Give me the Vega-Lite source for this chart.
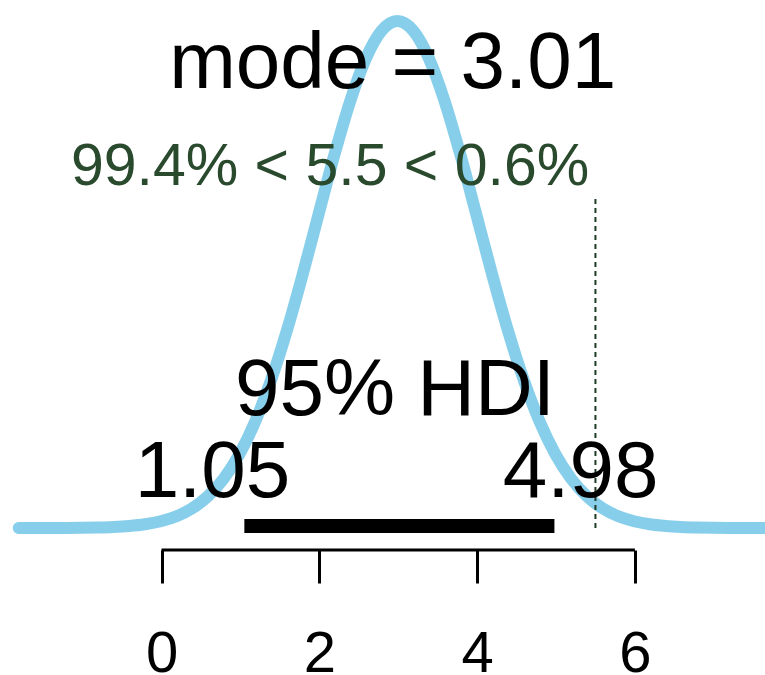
{
  "$schema": "https://vega.github.io/schema/vega-lite/v6.json",
  "width": 765,
  "height": 550,
  "autosize": {"type": "none"},
  "padding": {"top": 0, "left": 0, "right": 0, "bottom": 125},
  "background": "white",
  "config": {"view": {"stroke": null}, "font": "Liberation Sans"},
  "datasets": {
    "density": [
      {"x": -1.81, "d": 0.0}, {"x": -1.61, "d": 0.00002}, {"x": -1.41, "d": 0.00004}, {"x": -1.21, "d": 0.00008},
      {"x": -1.01, "d": 0.00018}, {"x": -0.81, "d": 0.00039}, {"x": -0.61, "d": 0.00079}, {"x": -0.41, "d": 0.00155},
      {"x": -0.21, "d": 0.00292}, {"x": -0.01, "d": 0.00529}, {"x": 0.19, "d": 0.00924}, {"x": 0.39, "d": 0.01553},
      {"x": 0.59, "d": 0.02511}, {"x": 0.79, "d": 0.03908}, {"x": 0.99, "d": 0.05851}, {"x": 1.19, "d": 0.0843},
      {"x": 1.39, "d": 0.11689}, {"x": 1.59, "d": 0.15595}, {"x": 1.79, "d": 0.20022}, {"x": 1.99, "d": 0.24736},
      {"x": 2.19, "d": 0.2941}, {"x": 2.39, "d": 0.33645}, {"x": 2.59, "d": 0.3704}, {"x": 2.79, "d": 0.39238},
      {"x": 2.99, "d": 0.4},
      {"x": 3.19, "d": 0.39238}, {"x": 3.39, "d": 0.3704}, {"x": 3.59, "d": 0.33645}, {"x": 3.79, "d": 0.2941},
      {"x": 3.99, "d": 0.24736}, {"x": 4.19, "d": 0.20022}, {"x": 4.39, "d": 0.15595}, {"x": 4.59, "d": 0.11689},
      {"x": 4.79, "d": 0.0843}, {"x": 4.99, "d": 0.05851}, {"x": 5.19, "d": 0.03908}, {"x": 5.39, "d": 0.02511},
      {"x": 5.59, "d": 0.01553}, {"x": 5.79, "d": 0.00924}, {"x": 5.99, "d": 0.00529}, {"x": 6.19, "d": 0.00292},
      {"x": 6.39, "d": 0.00155}, {"x": 6.59, "d": 0.00079}, {"x": 6.79, "d": 0.00039}, {"x": 6.99, "d": 0.00018},
      {"x": 7.19, "d": 0.00008}, {"x": 7.39, "d": 0.00004}, {"x": 7.59, "d": 0.00002}, {"x": 7.65, "d": 0.0}
    ],
    "hdi": [{"lo": 1.05, "hi": 4.98, "y": 0.0016}],
    "comp": [{"x": 5.5, "y0": 0.0, "y1": 0.2611}],
    "axisline": [{"from": 0, "to": 6, "y": -0.01736}],
    "bigText": [
      {"label": "mode = 3.01", "x": 2.93, "y": 0.3471},
      {"label": "95% HDI", "x": 2.96, "y": 0.0892},
      {"label": "1.05", "x": 0.646, "y": 0.0245},
      {"label": "4.98", "x": 5.311, "y": 0.0245}
    ],
    "compText": [{"label": "99.4% < 5.5 < 0.6%", "x": 2.136, "y": 0.2706}]
  },
  "layer": [
    {
      "data": {"name": "density"},
      "mark": {"type": "line", "color": "#87CEEB", "strokeWidth": 12, "strokeCap": "round", "strokeJoin": "round", "interpolate": "monotone"},
      "encoding": {
        "x": {
          "field": "x", "type": "quantitative",
          "scale": {"domain": [-2.047, 7.649], "nice": false, "zero": false},
          "axis": {
            "values": [0, 2, 4, 6], "format": "d", "domain": false, "grid": false, "title": null,
            "tickSize": 33, "tickWidth": 3, "tickColor": "black",
            "labelFontSize": 58, "labelFont": "Liberation Sans", "labelColor": "black",
            "labelBaseline": "alphabetic", "labelPadding": 88, "labelFlush": false, "labelOverlap": false
          }
        },
        "y": {
          "field": "d", "type": "quantitative",
          "scale": {"domain": [-0.01736, 0.41657], "nice": false, "zero": false},
          "axis": null
        }
      }
    },
    {
      "data": {"name": "axisline"},
      "mark": {"type": "rule", "color": "black", "strokeWidth": 3},
      "encoding": {
        "x": {"field": "from", "type": "quantitative"},
        "x2": {"field": "to"},
        "y": {"field": "y", "type": "quantitative"}
      }
    },
    {
      "data": {"name": "hdi"},
      "mark": {"type": "rule", "color": "black", "strokeWidth": 14, "strokeCap": "butt"},
      "encoding": {
        "x": {"field": "lo", "type": "quantitative"},
        "x2": {"field": "hi"},
        "y": {"field": "y", "type": "quantitative"}
      }
    },
    {
      "data": {"name": "comp"},
      "mark": {"type": "rule", "color": "#1f3a24", "strokeWidth": 2, "strokeDash": [5, 4]},
      "encoding": {
        "x": {"field": "x", "type": "quantitative"},
        "y": {"field": "y0", "type": "quantitative"},
        "y2": {"field": "y1"}
      }
    },
    {
      "data": {"name": "bigText"},
      "mark": {"type": "text", "font": "Liberation Sans", "fontSize": 80, "color": "black", "align": "center", "baseline": "alphabetic"},
      "encoding": {
        "x": {"field": "x", "type": "quantitative"},
        "y": {"field": "y", "type": "quantitative"},
        "text": {"field": "label"}
      }
    },
    {
      "data": {"name": "compText"},
      "mark": {"type": "text", "font": "Liberation Sans", "fontSize": 59, "color": "#2a4a2e", "align": "center", "baseline": "alphabetic"},
      "encoding": {
        "x": {"field": "x", "type": "quantitative"},
        "y": {"field": "y", "type": "quantitative"},
        "text": {"field": "label"}
      }
    }
  ]
}
